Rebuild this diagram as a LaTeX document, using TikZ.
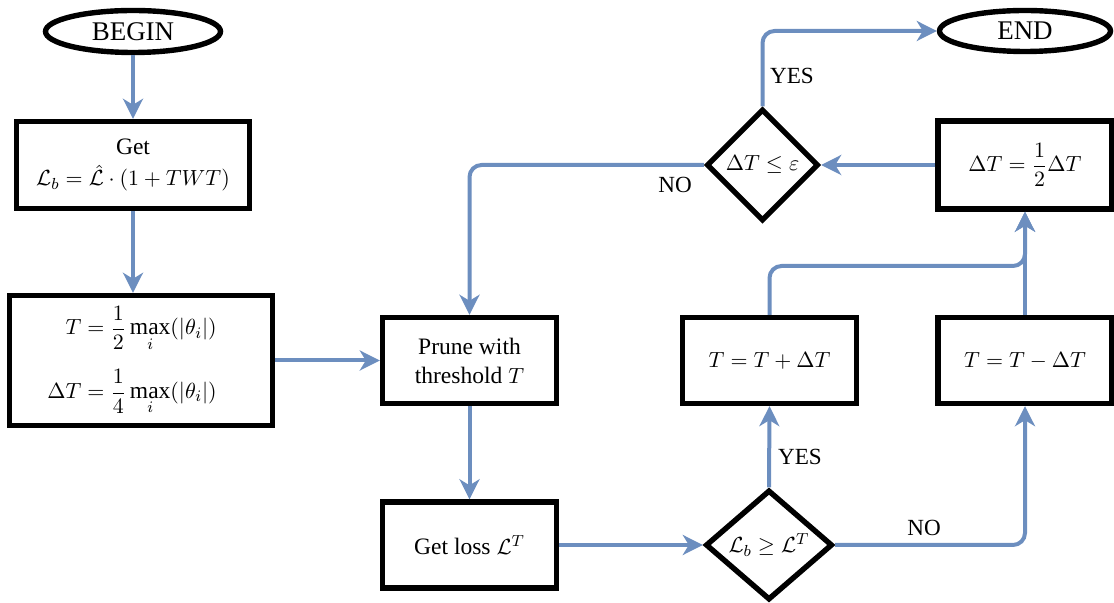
\documentclass[tikz,border=0pt]{standalone}
\usepackage{amsmath}
\usepackage{fontspec}
\setmainfont{Liberation Serif}[Scale=1.07]
\usetikzlibrary{shapes.geometric,arrows.meta,calc}
\definecolor{flowblue}{RGB}{108,142,191}
\begin{document}
\begin{tikzpicture}[x=0.5pt,y=-0.5pt,
  box/.style={draw=black,line width=2.7pt,rectangle,minimum width=87pt,minimum height=43pt,inner sep=2pt,align=center,font=\fontsize{11}{14.5}\selectfont},
  term/.style={draw=black,line width=2.7pt,ellipse,inner sep=0pt,font=\fontsize{12.6}{15}\selectfont},
  decision/.style={draw=black,line width=2.7pt,diamond,inner sep=0pt,font=\fontsize{11}{13}\selectfont},
  flow/.style={draw=flowblue,line width=2pt,rounded corners=6pt,-{Stealth[length=10pt,width=10pt,inset=3pt]}},
  lbl/.style={font=\fontsize{10.8}{13}\selectfont,inner sep=0pt}
]
\useasboundingbox (0,0) rectangle (1114,603);

\node[term,minimum width=87.5pt,minimum height=21pt] (begin) at (133,31.5) {BEGIN};
\node[box,minimum width=116.5pt,minimum height=43.5pt] (get) at (133,165) {Get\\[1pt]$\mathcal{L}_b=\hat{\mathcal{L}}\cdot(1+TWT)$};
\node[box,minimum width=131.5pt,minimum height=65pt] (init) at (141,360.5) {$\displaystyle\begin{aligned}T&=\frac{1}{2}\max_i(|\theta_i|)\\[5pt]\Delta T&=\frac{1}{4}\max_i(|\theta_i|)\end{aligned}$\hspace*{9pt}};
\node[box] (prune) at (469.5,360.5) {Prune with\\threshold $T$};
\node[box] (loss) at (469.5,545) {Get loss $\mathcal{L}^T$};
\node[decision,minimum width=63.5pt,minimum height=55pt] (cmp) at (769,545) {$\mathcal{L}_b\geq\mathcal{L}^T$};
\node[box] (plus) at (769.5,360.5) {$T=T+\Delta T$};
\node[box] (minus) at (1025,360.5) {$T=T-\Delta T$};
\node[box,minimum height=44pt] (half) at (1025,165) {$\Delta T=\dfrac{1}{2}\Delta T$};
\node[decision,minimum width=56pt,minimum height=56pt] (conv) at (762.5,165) {$\Delta T\leq\varepsilon$};
\node[term,minimum width=85.5pt,minimum height=20.5pt] (end) at (1025,31) {END};

\coordinate (join) at (1025,266);

\draw[flow] (begin.south) -- (get.north);
\draw[flow] (get.south) -- (get.south |- init.north);
\draw[flow] (init.east |- prune.west) -- (prune.west);
\draw[flow] (prune.south) -- (loss.north);
\draw[flow] (loss.east) -- (cmp.west);
\draw[flow] (cmp.north) -- (plus.south);
\draw[flow] (cmp.east) -| (minus.south);
\draw[flow] (plus.north) |- (half.south |- join) -- (half.south);
\draw[flow] (minus.north) -- (half.south);
\draw[flow] (half.west) -- (conv.east);
\draw[flow] (conv.west) -| (prune.north);
\draw[flow] (conv.north) |- (end.west);

\node[lbl] (yes1) at (792,76) {YES};
\node[lbl] (no1) at (675,185) {NO};
\node[lbl] (yes2) at (800,457) {YES};
\node[lbl] (no2) at (924,528) {NO};
\end{tikzpicture}
\end{document}
